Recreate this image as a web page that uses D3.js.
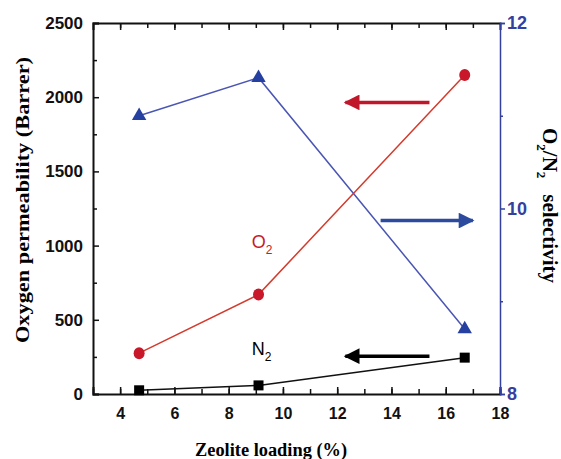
<!DOCTYPE html>
<html lang="en">
<head>
<meta charset="UTF-8">
<title>Zeolite loading</title>
<style>
  body { margin: 0; background: #fff; }
  .tick text { font-family: "Liberation Sans", Arial, sans-serif; font-weight: bold; }
  .title { font-family: "Liberation Serif", "Times New Roman", serif; font-weight: bold; font-size: 18px; }
</style>
</head>
<body>
<script src="https://cdn.jsdelivr.net/npm/d3@7"></script>
<script>
// data
const loading = [4.7, 9.1, 16.7];
const o2Perm = [275, 670, 2150];
const n2Perm = [25, 58, 245];
const selectivity = [11.0, 11.41, 8.7];

const xTicks = [4, 6, 8, 10, 12, 14, 16, 18];
const yTicks = [0, 500, 1000, 1500, 2000, 2500];
const y2Ticks = [8, 10, 12];

const W = 561, H = 459;
const m = { l: 93, r: 61, t: 23, b: 65 };

const svg = d3.select('body').append('svg')
  .attr('width', W).attr('height', H);

const x = d3.scaleLinear().domain([3, 18]).range([m.l, W - m.r]);
const y = d3.scaleLinear().domain([0, 2500]).range([H - m.b, m.t]);
const y2 = d3.scaleLinear().domain([8, 12]).range([H - m.b, m.t]);

const black = '#111';
const blue = '#3340a0';
const red = '#c8182a';
const fmt = d3.format('d');

// minor ticks, no domain line
function minor(axis, vals, size) {
  return g => g.call(axis.tickValues(vals).tickSize(size).tickFormat(''))
    .call(g => g.select('.domain').remove());
}

// bottom axis
svg.append('g').attr('transform', `translate(0,${y(0)})`)
  .call(minor(d3.axisBottom(x), d3.range(3, 19, 1), -5))
  .selectAll('line').attr('stroke', black).attr('stroke-width', 1.5);
svg.append('g').attr('transform', `translate(0,${y(0)})`)
  .call(d3.axisBottom(x).tickValues(xTicks).tickFormat(fmt).tickSize(-7).tickPadding(14))
  .call(g => g.select('.domain').attr('stroke', black).attr('stroke-width', 2))
  .call(g => g.selectAll('line').attr('stroke', black).attr('stroke-width', 1.5))
  .call(g => g.selectAll('text').attr('font-size', 16).attr('fill', black));

// top axis
svg.append('g').attr('transform', `translate(0,${m.t})`)
  .call(minor(d3.axisTop(x), d3.range(4, 18, 1), -5))
  .selectAll('line').attr('stroke', black).attr('stroke-width', 1.5);
svg.append('g').attr('transform', `translate(0,${m.t})`)
  .call(d3.axisTop(x).tickValues(xTicks.slice(0, -1)).tickSize(-7).tickFormat(''))
  .call(g => g.select('.domain').attr('stroke', black).attr('stroke-width', 2))
  .call(g => g.selectAll('line').attr('stroke', black).attr('stroke-width', 1.5));

// left axis
svg.append('g').attr('transform', `translate(${m.l},0)`)
  .call(minor(d3.axisLeft(y), [250, 750, 1250, 1750, 2250], -4))
  .selectAll('line').attr('stroke', black).attr('stroke-width', 1.5);
svg.append('g').attr('transform', `translate(${m.l},0)`)
  .call(d3.axisLeft(y).tickValues(yTicks).tickFormat(fmt).tickSize(-6).tickPadding(10))
  .call(g => g.select('.domain').attr('stroke', black).attr('stroke-width', 2))
  .call(g => g.selectAll('line').attr('stroke', black).attr('stroke-width', 1.5))
  .call(g => g.selectAll('text').attr('font-size', 17).attr('fill', black));

// right axis
svg.append('g').attr('transform', `translate(${W - m.r},0)`)
  .call(minor(d3.axisRight(y2), [9, 11], 3))
  .selectAll('line').attr('stroke', blue).attr('stroke-width', 1.5);
svg.append('g').attr('transform', `translate(${W - m.r},0)`)
  .call(d3.axisRight(y2).tickValues(y2Ticks).tickFormat(fmt).tickSize(5).tickPadding(2))
  .call(g => g.select('.domain').attr('stroke', blue).attr('stroke-width', 1.5))
  .call(g => g.selectAll('line').attr('stroke', blue).attr('stroke-width', 1.5))
  .call(g => g.selectAll('text').attr('font-size', 18).attr('fill', blue));

// lines
const pts = (ys, sc) => loading.map((d, i) => [x(d), sc(ys[i])]);
const line = d3.line();

svg.append('path').attr('d', line(pts(selectivity, y2)))
  .attr('fill', 'none').attr('stroke', '#4a55b4').attr('stroke-width', 1.5);
svg.append('path').attr('d', line(pts(o2Perm, y)))
  .attr('fill', 'none').attr('stroke', '#d43a2c').attr('stroke-width', 1.5);
svg.append('path').attr('d', line(pts(n2Perm, y)))
  .attr('fill', 'none').attr('stroke', black).attr('stroke-width', 1.5);

// markers
svg.selectAll('.tri').data(pts(selectivity, y2)).enter().append('path')
  .attr('d', d3.symbol(d3.symbolTriangle, 90))
  .attr('transform', d => `translate(${d[0]},${d[1]})`)
  .attr('fill', '#2540a0');
svg.selectAll('.circ').data(pts(o2Perm, y)).enter().append('ellipse')
  .attr('cx', d => d[0]).attr('cy', d => d[1]).attr('rx', 5.5).attr('ry', 6)
  .attr('fill', red);
svg.selectAll('.sq').data(pts(n2Perm, y)).enter().append('rect')
  .attr('x', d => d[0] - 5).attr('y', d => d[1] - 5)
  .attr('width', 10).attr('height', 10).attr('fill', '#000');

// arrows
const defs = svg.append('defs');
function marker(id, col) {
  defs.append('marker').attr('id', id)
    .attr('viewBox', '0 0 10 10').attr('refX', 9).attr('refY', 5)
    .attr('markerWidth', 5.5).attr('markerHeight', 4.5).attr('orient', 'auto')
    .attr('markerUnits', 'strokeWidth')
    .append('path').attr('d', 'M0,0 L10,5 L0,10 z').attr('fill', col);
}
marker('aRed', '#c0182a');
marker('aBlue', '#2c4a9e');
marker('aBlack', '#000');

function arrow(x1, x2, yv, sc, col, id) {
  svg.append('line')
    .attr('x1', x(x1)).attr('x2', x(x2)).attr('y1', sc(yv)).attr('y2', sc(yv))
    .attr('stroke', col).attr('stroke-width', 3.5)
    .attr('marker-end', `url(#${id})`);
}
arrow(15.4, 12.3, 1965, y, '#c0182a', 'aRed');
arrow(13.6, 17.0, 9.87, y2, '#2c4a9e', 'aBlue');
arrow(15.4, 12.3, 255, y, '#000', 'aBlack');

// series labels
const o2Lbl = svg.append('text').attr('x', x(8.85)).attr('y', y(985))
  .attr('font-family', 'Liberation Sans, Arial, sans-serif').attr('font-size', 18)
  .attr('fill', red);
o2Lbl.append('tspan').text('O');
o2Lbl.append('tspan').attr('dy', 6).attr('font-size', 12).text('2');

const n2Lbl = svg.append('text').attr('x', x(8.85)).attr('y', y(265))
  .attr('font-family', 'Liberation Sans, Arial, sans-serif').attr('font-size', 18)
  .attr('fill', '#000');
n2Lbl.append('tspan').text('N');
n2Lbl.append('tspan').attr('dy', 6).attr('font-size', 12).text('2');

// axis titles
svg.append('text').attr('class', 'title')
  .attr('x', 271).attr('y', 456).attr('text-anchor', 'middle')
  .attr('textLength', 152).attr('lengthAdjust', 'spacingAndGlyphs')
  .text('Zeolite loading (%)');

svg.append('text').attr('class', 'title')
  .attr('transform', `translate(29,200) rotate(-90)`)
  .attr('text-anchor', 'middle')
  .attr('textLength', 286).attr('lengthAdjust', 'spacingAndGlyphs')
  .text('Oxygen permeability (Barrer)');

const rt = svg.append('text').attr('class', 'title')
  .attr('transform', `translate(543,128) rotate(90)`)
  .style('font-size', '21px');
rt.append('tspan').text('O');
rt.append('tspan').attr('font-size', 13).attr('dy', 6).text('2');
rt.append('tspan').attr('dy', -6).text('/N');
rt.append('tspan').attr('font-size', 13).attr('dy', 6).text('2');
rt.append('tspan').attr('dy', -6).attr('dx', 16).text('selectivity');
</script>
</body>
</html>
